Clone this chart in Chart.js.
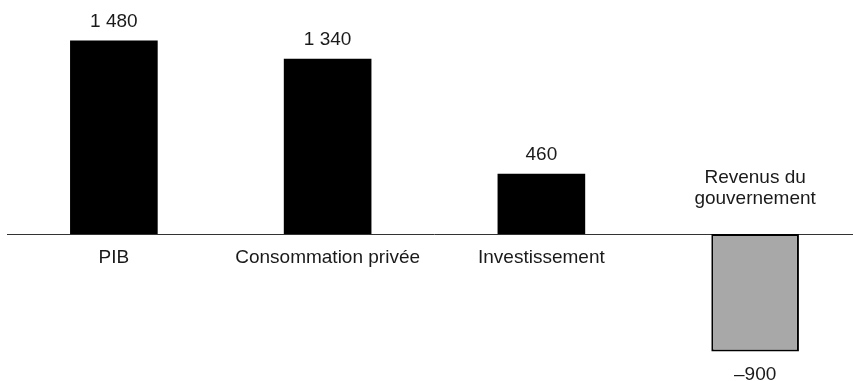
<!DOCTYPE html>
<html lang="fr">
<head>
<meta charset="utf-8">
<title>Contributions</title>
<script src="https://cdn.jsdelivr.net/npm/chart.js@4.4.1/dist/chart.umd.min.js"></script>
<style>
  html, body { margin: 0; padding: 0; background: #fff; overflow: hidden; }
  #wrap { width: 853px; height: 381px; overflow: hidden; }
  canvas { display: block; }
</style>
</head>
<body>
<div id="wrap"><canvas id="c" width="862" height="381"></canvas></div>
<script>
// Categories (multi-line labels as arrays)
const categories = ['PIB', 'Consommation privée', 'Investissement', ['Revenus du', 'gouvernement']];
// Values in the series
const values = [1480, 1340, 460, -900];
// Fill per bar
const barColors = ['#000000', '#000000', '#000000', '#a8a8a8'];

const FONT = '19px "Liberation Sans", Arial, sans-serif';
const TEXT = '#1a1a1a';

function fmt(v) {
  const s = Math.abs(v).toString().replace(/\B(?=(\d{3})+(?!\d))/g, ' ');
  return (v < 0 ? '\u2013' : '') + s;
}

// Zero line plus value and category labels around each bar
const labelsPlugin = {
  id: 'barLabels',
  beforeDatasetsDraw(chart) {
    const { ctx, chartArea, scales } = chart;
    const y0 = Math.round(scales.y.getPixelForValue(0)) + 0.5;
    ctx.save();
    ctx.strokeStyle = '#333';
    ctx.lineWidth = 1;
    ctx.beginPath();
    ctx.moveTo(chartArea.left, y0);
    ctx.lineTo(chartArea.right, y0);
    ctx.stroke();
    ctx.restore();
  },
  afterDatasetsDraw(chart) {
    const { ctx, scales } = chart;
    const meta = chart.getDatasetMeta(0);
    const y0 = scales.y.getPixelForValue(0);
    ctx.save();
    ctx.font = FONT;
    ctx.fillStyle = TEXT;
    ctx.textAlign = 'center';
    ctx.textBaseline = 'alphabetic';
    meta.data.forEach((bar, i) => {
      const v = values[i];
      const x = bar.x;
      const lines = Array.isArray(categories[i]) ? categories[i] : [categories[i]];
      if (v >= 0) {
        ctx.fillText(fmt(v), x, bar.y - 13.5);
        lines.forEach((t, k) => ctx.fillText(t, x, y0 + 29.5 + k * 21));
      } else {
        ctx.fillText(fmt(v), x, bar.y + 28);
        const n = lines.length;
        lines.forEach((t, k) => ctx.fillText(t, x, y0 - 30 - (n - 1 - k) * 21));
      }
    });
    ctx.restore();
  }
};

new Chart(document.getElementById('c'), {
  type: 'bar',
  data: {
    labels: categories,
    datasets: [{
      data: values,
      backgroundColor: barColors,
      borderColor: '#000',
      borderWidth: [0, 0, 0, 2],
      borderSkipped: false,
      barPercentage: 0.41,
      categoryPercentage: 1
    }]
  },
  options: {
    responsive: false,
    animation: false,
    devicePixelRatio: 1,
    layout: { padding: { left: 7, right: 0, top: 0, bottom: 0 } },
    plugins: { legend: { display: false }, tooltip: { enabled: false } },
    scales: {
      x: { display: false },
      y: { display: false, min: -1125, max: 1790 }
    }
  },
  plugins: [labelsPlugin]
});
</script>
</body>
</html>
